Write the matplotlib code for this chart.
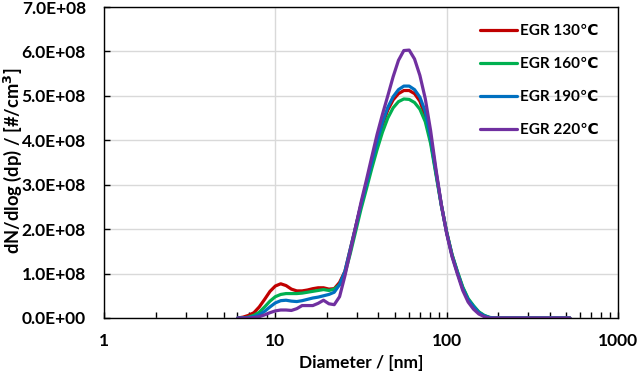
import matplotlib
matplotlib.use("Agg")
import matplotlib.pyplot as plt
from matplotlib.ticker import LogLocator, FixedLocator, NullFormatter, FuncFormatter

plt.rcParams['font.family'] = ['Lato', 'DejaVu Sans']
plt.rcParams['font.weight'] = 'bold'

# Particle diameter channels [nm]
diameter = [6.04, 6.49, 6.98, 7.50, 8.06, 8.66, 9.31, 10.0, 10.75, 11.55,
            12.41, 13.34, 14.33, 15.40, 16.55, 17.78, 19.11, 20.54, 22.07, 23.71,
            25.48, 27.38, 29.43, 31.62, 33.98, 36.52, 39.24, 42.17, 45.32, 48.70,
            52.33, 56.23, 60.43, 64.94, 69.78, 74.99, 80.58, 86.60, 93.06, 100.0,
            107.5, 115.5, 124.1, 133.4, 143.3, 154.0, 165.5, 177.8, 191.1, 205.4,
            237.1, 273.8, 316.2, 365.2, 421.7, 487.0, 523.6]

# dN/dlog(dp) in units of 1e8 #/cm3
egr130 = [0.00, 0.02, 0.06, 0.12, 0.25, 0.42, 0.60, 0.72, 0.77, 0.73,
          0.65, 0.61, 0.61, 0.63, 0.66, 0.68, 0.68, 0.65, 0.66, 0.80,
          1.05, 1.55, 2.05, 2.55, 3.00, 3.48, 3.93, 4.35, 4.68, 4.91,
          5.05, 5.12, 5.12, 5.05, 4.88, 4.55, 4.00, 3.27, 2.55, 1.93,
          1.42, 1.03, 0.68, 0.42, 0.26, 0.13, 0.05, 0.01, 0.00, 0.00,
          0.00, 0.00, 0.00, 0.00, 0.00, 0.00, 0.00]
egr160 = [0.00, 0.00, 0.02, 0.06, 0.13, 0.25, 0.38, 0.48, 0.53, 0.55,
          0.55, 0.55, 0.56, 0.58, 0.60, 0.62, 0.64, 0.62, 0.65, 0.75,
          1.00, 1.45, 1.95, 2.45, 2.90, 3.36, 3.79, 4.18, 4.50, 4.73,
          4.87, 4.93, 4.92, 4.85, 4.70, 4.42, 3.93, 3.23, 2.53, 1.93,
          1.43, 1.05, 0.70, 0.44, 0.28, 0.14, 0.06, 0.015, 0.00, 0.00,
          0.00, 0.00, 0.00, 0.00, 0.00, 0.00, 0.00]
egr190 = [0.00, 0.00, 0.01, 0.03, 0.07, 0.15, 0.25, 0.34, 0.39, 0.40,
          0.38, 0.37, 0.39, 0.42, 0.45, 0.47, 0.50, 0.53, 0.58, 0.75,
          1.05, 1.55, 2.05, 2.55, 3.02, 3.50, 3.97, 4.40, 4.74, 4.98,
          5.14, 5.22, 5.22, 5.14, 4.97, 4.65, 4.07, 3.30, 2.55, 1.92,
          1.40, 1.02, 0.66, 0.41, 0.26, 0.12, 0.05, 0.01, 0.00, 0.00,
          0.00, 0.00, 0.00, 0.00, 0.00, 0.00, 0.00]
egr220 = [0.00, 0.00, 0.00, 0.01, 0.03, 0.07, 0.12, 0.16, 0.18, 0.18,
          0.17, 0.21, 0.28, 0.28, 0.28, 0.33, 0.40, 0.32, 0.30, 0.48,
          0.95, 1.50, 2.05, 2.60, 3.10, 3.62, 4.13, 4.58, 5.00, 5.43,
          5.80, 6.02, 6.03, 5.83, 5.46, 4.94, 4.22, 3.35, 2.55, 1.90,
          1.38, 0.99, 0.62, 0.36, 0.20, 0.09, 0.03, 0.00, 0.00, 0.00,
          0.00, 0.00, 0.00, 0.00, 0.00, 0.00, 0.00]

labels = ['EGR 130\u2103', 'EGR 160\u2103', 'EGR 190\u2103', 'EGR 220\u2103']
colors = ['#C00000', '#00B050', '#0070C0', '#7030A0']
series = [egr130, egr160, egr190, egr220]

fig = plt.figure(figsize=(6.38, 3.76), dpi=100)
ax = fig.add_axes([104/638, 1-318/376, (618-104)/638, (318-7)/376])

for vals, lab, col in zip(series, labels, colors):
    ax.plot(diameter, [v * 1e8 for v in vals], color=col, lw=2.3, label=lab,
            solid_joinstyle='round', solid_capstyle='round')

ax.set_xscale('log')
ax.set_xlim(1, 1000)
ax.set_ylim(0, 7e8)
ax.set_yticks([i * 1e8 for i in range(8)])
ax.yaxis.set_major_formatter(FuncFormatter(lambda v, p: f"{v:.1E}"))
ax.xaxis.set_major_locator(FixedLocator([1, 10, 100, 1000]))
ax.xaxis.set_major_formatter(FuncFormatter(lambda v, p: f"{int(round(v))}"))
ax.xaxis.set_minor_locator(LogLocator(base=10, subs=range(2, 10)))
ax.xaxis.set_minor_formatter(NullFormatter())

ax.grid(True, which='major', color='#D9D9D9', lw=1.0)
ax.set_axisbelow(True)
for s in ax.spines.values():
    s.set_color('black')
    s.set_linewidth(1.0)

ax.tick_params(axis='x', which='both', direction='in', length=4, width=1,
               labelsize=12.5, pad=11, top=False)
ax.tick_params(axis='y', which='major', direction='in', length=4, width=1,
               labelsize=12.5, pad=13, right=False)
for t in ax.get_xticklabels() + ax.get_yticklabels():
    t.set_fontweight('bold')

ax.set_xlabel('Diameter / [nm]', fontsize=12.5, fontweight='bold', labelpad=4)
ax.set_ylabel('dN/dlog (dp) / [#/cm$^3$]', fontsize=13.2, fontweight='bold',
              va='center', ha='center')
ax.yaxis.set_label_coords((13 - 104) / 514, 0.5 + (162.5 - 160.5) / 311)

leg = ax.legend(loc='upper right', bbox_to_anchor=(0.99, 0.99), frameon=False,
                prop={'weight': 'bold', 'size': 11}, handlelength=2.4,
                handletextpad=0.25, labelspacing=1.25)

fig.savefig('out.png', dpi=100)
